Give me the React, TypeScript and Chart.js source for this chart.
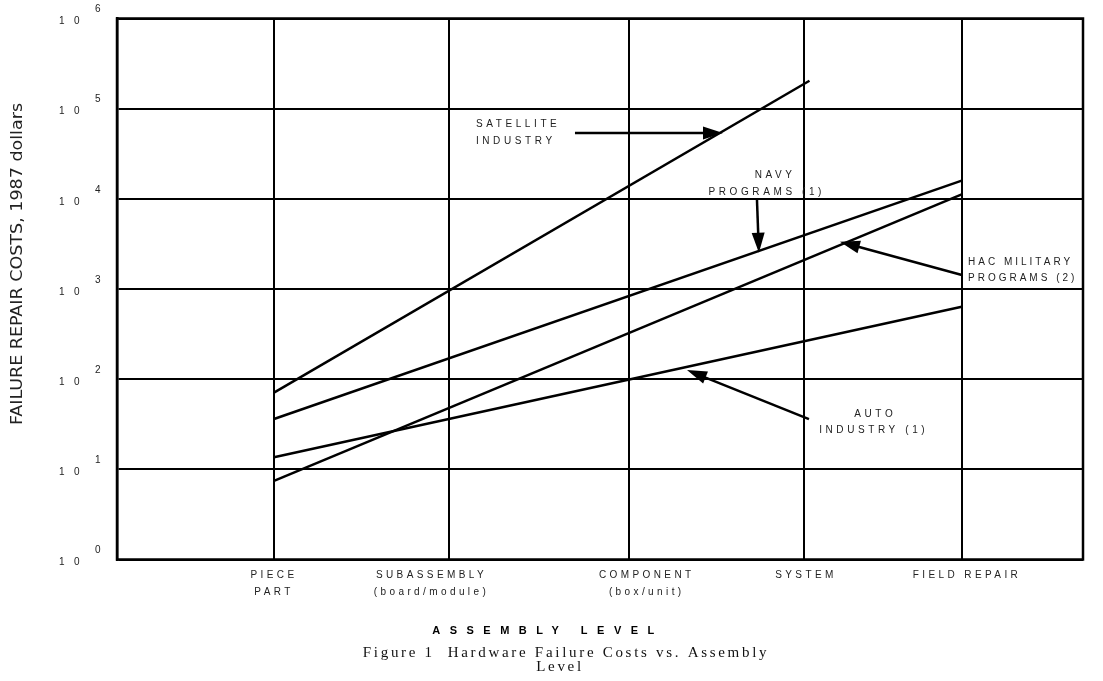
import React, { useEffect, useRef } from 'react';
import { Chart, registerables } from 'chart.js';

Chart.register(...registerables);

// ---- data ----
const levelLabels: string[][] = [
  ['PIECE', 'PART'],
  ['SUBASSEMBLY', '(board/module)'],
  ['COMPONENT', '(box/unit)'],
  ['SYSTEM'],
  ['FIELD REPAIR'],
];
// positions of the assembly levels along the (hand drawn) x axis
const levelX = [1, 2, 3.03, 4.03, 4.93];
// where the level names are printed
const labelX = [1.0, 1.9, 3.13, 4.04, 4.96];

const yTicks = [1, 10, 100, 1000, 10000, 100000, 1000000];
const yExponents = ['0', '1', '2', '3', '4', '5', '6'];

const satelliteX = [1, 4.06];
const satelliteY = [70.8, 204000];
const navyX = [1, 4.93];
const navyY = [36.2, 15900];
const hacX = [1, 4.93];
const hacY = [7.43, 11200];
const autoX = [1, 4.93];
const autoY = [13.6, 637];

const xMin = 0.103;
const xMax = 5.623;

type Note = {
  lines: string[];
  at: [number, number][];
  align: CanvasTextAlign;
  spacing: number;
  from: [number, number];
  to: [number, number];
};

const notes: Note[] = [
  {
    lines: ['SATELLITE', 'INDUSTRY'],
    at: [[2.154, 67600], [2.154, 43000]],
    align: 'left',
    spacing: 3.6,
    from: [2.72, 53700],
    to: [3.566, 53700],
  },
  {
    lines: ['NAVY', 'PROGRAMS (1)'],
    at: [[3.864, 18400], [3.816, 11700]],
    align: 'center',
    spacing: 3.6,
    from: [3.76, 9700],
    to: [3.771, 2530],
  },
  {
    lines: ['HAC MILITARY', 'PROGRAMS (2)'],
    at: [[4.966, 1960], [4.966, 1320]],
    align: 'left',
    spacing: 3.0,
    from: [4.931, 1430],
    to: [4.234, 3340],
  },
  {
    lines: ['AUTO', 'INDUSTRY (1)'],
    at: [[4.436, 41.1], [4.427, 26.8]],
    align: 'center',
    spacing: 3.6,
    from: [4.057, 36.1],
    to: [3.36, 126],
  },
];

const yTitle = 'FAILURE REPAIR COSTS, 1987 dollars';
const xTitle = 'ASSEMBLY LEVEL';
const caption = ['Figure 1  Hardware Failure Costs vs. Assembly', 'Level'];

const pts = (xs: number[], ys: number[]) => xs.map((x, i) => ({ x, y: ys[i] }));

const SANS = '"Liberation Sans", Arial, sans-serif';

function drawArrow(ctx: CanvasRenderingContext2D, x1: number, y1: number, x2: number, y2: number) {
  const a = Math.atan2(y2 - y1, x2 - x1);
  const hl = 20;
  const hw = 6.5;
  const bx = x2 - hl * Math.cos(a);
  const by = y2 - hl * Math.sin(a);
  ctx.beginPath();
  ctx.moveTo(x1, y1);
  ctx.lineTo(bx + 2 * Math.cos(a), by + 2 * Math.sin(a));
  ctx.stroke();
  ctx.beginPath();
  ctx.moveTo(x2, y2);
  ctx.lineTo(bx + hw * Math.sin(a), by - hw * Math.cos(a));
  ctx.lineTo(bx - hw * Math.sin(a), by + hw * Math.cos(a));
  ctx.closePath();
  ctx.fill();
}

const spacingPlugin = {
  id: 'spacing',
  beforeDraw(chart: any) {
    (chart.ctx as any).letterSpacing = '3.4px';
  },
};

const decorPlugin = {
  id: 'decor',
  afterDraw(chart: any) {
    const ctx: CanvasRenderingContext2D = chart.ctx;
    const { left, right, top, bottom } = chart.chartArea;
    const xs = chart.scales.x;
    const ys = chart.scales.y;
    ctx.save();
    // frame
    ctx.strokeStyle = '#000';
    ctx.lineWidth = 2.5;
    ctx.strokeRect(left, top, right - left, bottom - top);

    // exponents of the y tick labels
    (ctx as any).letterSpacing = '0px';
    ctx.fillStyle = '#222';
    ctx.font = `10px ${SANS}`;
    ctx.textAlign = 'left';
    ctx.textBaseline = 'middle';
    yTicks.forEach((v, i) => {
      const py = ys.getPixelForValue(v) + 3 - 12;
      ctx.fillText(yExponents[i], 95, py);
    });

    // notes + arrows
    ctx.font = `10px ${SANS}`;
    ctx.fillStyle = '#222';
    ctx.strokeStyle = '#000';
    ctx.lineWidth = 2.5;
    notes.forEach((n) => {
      (ctx as any).letterSpacing = `${n.spacing}px`;
      ctx.textAlign = n.align;
      n.lines.forEach((t, i) => {
        const [vx, vy] = n.at[i];
        ctx.fillText(t, xs.getPixelForValue(vx), ys.getPixelForValue(vy));
      });
      ctx.fillStyle = '#000';
      drawArrow(
        ctx,
        xs.getPixelForValue(n.from[0]),
        ys.getPixelForValue(n.from[1]),
        xs.getPixelForValue(n.to[0]),
        ys.getPixelForValue(n.to[1])
      );
      ctx.fillStyle = '#222';
    });

    // y axis title (stretched along its baseline like the original)
    (ctx as any).letterSpacing = '0px';
    ctx.save();
    ctx.translate(18, 264);
    ctx.rotate(-Math.PI / 2);
    ctx.font = `15px "Liberation Sans Narrow", "DejaVu Sans Condensed", ${SANS}`;
    const w = ctx.measureText(yTitle).width;
    ctx.scale(322 / w, 1);
    ctx.textAlign = 'center';
    ctx.textBaseline = 'middle';
    ctx.fillStyle = '#222';
    ctx.fillText(yTitle, 0, 0);
    ctx.restore();

    // x axis title
    (ctx as any).letterSpacing = '9.5px';
    ctx.font = `bold 11px ${SANS}`;
    ctx.textAlign = 'center';
    ctx.fillStyle = '#000';
    ctx.fillText(xTitle, 548, 631);

    // caption
    (ctx as any).letterSpacing = '2.7px';
    ctx.font = `15px "Liberation Serif", "Times New Roman", serif`;
    ctx.fillStyle = '#111';
    ctx.fillText(caption[0], 566, 653);
    ctx.fillText(caption[1], 560, 667);
    ctx.restore();
  },
};

export default function App() {
  const ref = useRef<HTMLCanvasElement>(null);
  useEffect(() => {
    if (!ref.current) return;
    document.documentElement.style.overflow = 'hidden';
    document.body.style.overflow = 'hidden';
    document.body.style.margin = '0';
    const line = (data: { x: number; y: number }[]) => ({
      data,
      borderColor: '#000',
      borderWidth: 2.5,
      pointRadius: 0,
      tension: 0,
      xAxisID: 'x',
      yAxisID: 'y',
    });
    const chart = new Chart(ref.current, {
      type: 'line',
      data: {
        datasets: [
          { label: 'Satellite industry', ...line(pts(satelliteX, satelliteY)) },
          { label: 'Navy programs (1)', ...line(pts(navyX, navyY)) },
          { label: 'HAC military programs (2)', ...line(pts(hacX, hacY)) },
          { label: 'Auto industry (1)', ...line(pts(autoX, autoY)) },
        ],
      },
      options: {
        animation: false,
        responsive: false,
        maintainAspectRatio: false,
        layout: { padding: { top: 18.5, right: 20, left: 0, bottom: 0 } },
        plugins: { legend: { display: false }, tooltip: { enabled: false }, title: { display: false } },
        scales: {
          x: {
            type: 'linear',
            position: 'bottom',
            min: xMin,
            max: xMax,
            afterBuildTicks: (s: any) => {
              s.ticks = levelX.map((v) => ({ value: v }));
            },
            afterFit: (s: any) => {
              s.height = 0;
              s.paddingLeft = 0;
              s.paddingRight = 0;
            },
            grid: { color: '#000', lineWidth: 2, drawTicks: false },
            border: { display: false },
            ticks: { display: false },
          },
          xl: {
            type: 'linear',
            position: 'bottom',
            min: xMin,
            max: xMax,
            afterBuildTicks: (s: any) => {
              s.ticks = labelX.map((v) => ({ value: v }));
            },
            afterFit: (s: any) => {
              s.height = 121.5;
              s.paddingLeft = 0;
              s.paddingRight = 0;
            },
            grid: { display: false, drawTicks: false },
            border: { display: false },
            ticks: {
              autoSkip: false,
              maxRotation: 0,
              minRotation: 0,
              padding: 7,
              color: '#222',
              font: { family: SANS, size: 10, lineHeight: 1.7 },
              callback: (_v: any, i: number) => levelLabels[i],
            },
          },
          y: {
            type: 'logarithmic',
            min: 1,
            max: 1000000,
            afterBuildTicks: (s: any) => {
              s.ticks = yTicks.map((v) => ({ value: v }));
            },
            afterFit: (s: any) => {
              s.width = 117;
              s.paddingTop = 0;
              s.paddingBottom = 0;
            },
            grid: { color: '#000', lineWidth: 2, drawTicks: false },
            border: { display: true, color: '#000', width: 2.5 },
            ticks: {
              autoSkip: false,
              padding: 34,
              labelOffset: 3,
              color: '#222',
              font: { family: SANS, size: 10 },
              callback: () => '1 0',
            },
          },
        },
      } as any,
      plugins: [spacingPlugin, decorPlugin],
    });
    return () => chart.destroy();
  }, []);
  return (
    <div style={{ position: 'fixed', left: 0, top: 0, width: 1103, height: 681, background: '#fff' }}>
      <canvas ref={ref} width={1103} height={681} style={{ display: 'block', width: 1103, height: 681 }} />
    </div>
  );
}
